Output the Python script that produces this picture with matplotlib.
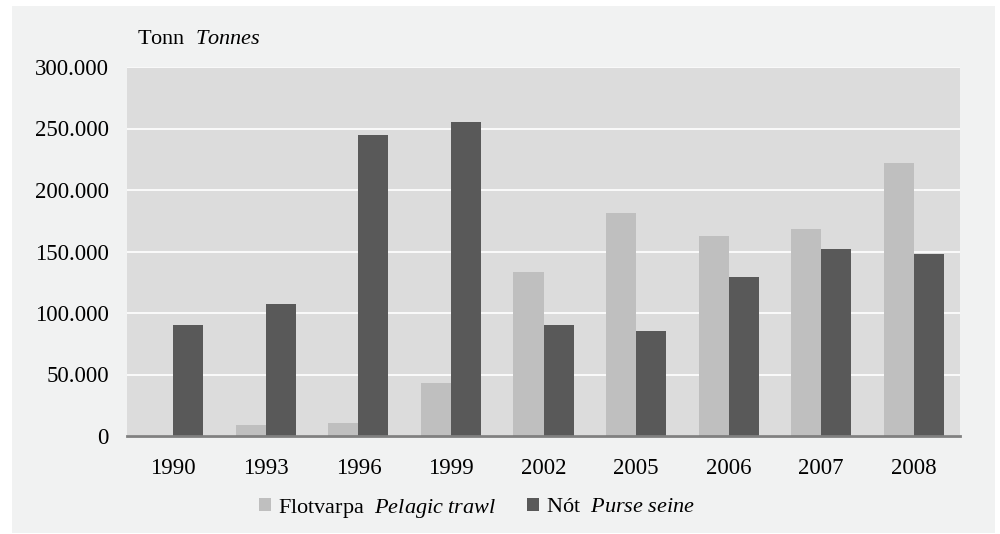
import matplotlib
matplotlib.use("Agg")
import matplotlib.pyplot as plt
from matplotlib.patches import Rectangle
from matplotlib.ticker import FuncFormatter
import numpy as np

years = ["1990", "1993", "1996", "1999", "2002", "2005", "2006", "2007", "2008"]
pelagic_trawl = [0, 9000, 10500, 43000, 133000, 181000, 163000, 168000, 222000]
purse_seine = [90500, 107000, 245000, 255000, 90500, 85000, 129000, 152000, 148000]

light = "#bfbfbf"
dark = "#595959"

plt.rcParams["font.family"] = "Liberation Serif"
plt.rcParams["mathtext.fontset"] = "custom"
plt.rcParams["mathtext.rm"] = "Liberation Serif"
plt.rcParams["mathtext.it"] = "Liberation Serif:italic"

fig = plt.figure(figsize=(10, 5.34), dpi=100, facecolor="white")
W, H = 1000, 534
fig.patches.append(Rectangle((12 / W, 1 / H), (995 - 12) / W, (528 - 1) / H,
                             transform=fig.transFigure, facecolor="#f1f2f2",
                             edgecolor="none", zorder=-10))

ax = fig.add_axes([127 / W, 98 / H, (960 - 127) / W, (436 - 67) / H])
ax.set_facecolor("#dcdcdc")

x = np.arange(len(years))
w = 0.325
ax.bar(x - w / 2, pelagic_trawl, w, color=light, zorder=3,
       label=r"Flotvarpa  $\mathit{Pelagic\ trawl}$")
ax.bar(x + w / 2, purse_seine, w, color=dark, zorder=3,
       label=r"Nót  $\mathit{Purse\ seine}$")

ax.set_xlim(-0.5, len(years) - 0.5)
ax.set_ylim(0, 300000)
ax.set_yticks(range(0, 300001, 50000))
ax.yaxis.set_major_formatter(FuncFormatter(lambda v, p: f"{int(v):,}".replace(",", ".")))
ax.set_xticks(x)
ax.set_xticklabels(years)
ax.tick_params(axis="both", length=0, labelsize=16.5, colors="black")
ax.tick_params(axis="y", pad=13)
ax.tick_params(axis="x", pad=16)
ax.grid(axis="y", color="white", linewidth=1.2, zorder=1)
ax.set_axisbelow(True)

for s in ["top", "right", "left"]:
    ax.spines[s].set_visible(False)
ax.spines["bottom"].set_color("#808080")
ax.spines["bottom"].set_linewidth(2)
ax.spines["bottom"].set_zorder(4)

fig.text(137 / W, 1 - 40 / H, r"Tonn  $\mathit{Tonnes}$", fontsize=16,
         va="center", ha="left")

fig.legend(loc="center", bbox_to_anchor=(477 / W, 1 - 508 / H), ncol=2,
           frameon=False, fontsize=16, handlelength=0.55, handleheight=0.55,
           handletextpad=0.3, columnspacing=1.4)

fig.savefig("out.png", dpi=100, facecolor=fig.get_facecolor())
